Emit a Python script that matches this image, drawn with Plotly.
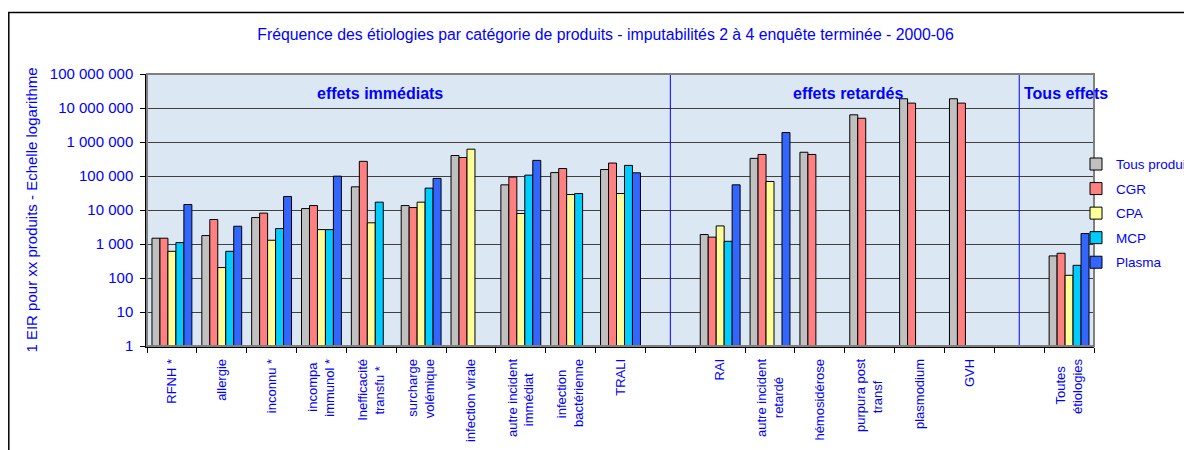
import plotly.graph_objects as go

NB = "\u00a0"
categories = ["RFNH *", "allergie", "inconnu *", "incompa" + NB + "<br>immunol *",
              "Inefficacité<br>transfu *" + NB * 2,
              "surcharge<br>volémique", "infection virale", "autre incident<br>immédiat" + NB * 4,
              "infection" + NB * 3 + "<br>bactérienne", "TRALI", " ", "RAI",
              "autre incident<br>retardé" + NB * 5,
              "hémosidérose", "purpura post<br>transf" + NB * 6, "plasmodium", "GVH", "  ",
              "Toutes" + NB * 2 + "<br>étiologies"]

tous_produits = [1480, 1770, 6000, 11000, 48000, 13500, 400000, 55000, 126000, 155000, None,
                 1900, 330000, 500000, 6300000, 18700000, 18700000, None, 446]
cgr = [1480, 5250, 8100, 13500, 270000, 11800, 350000, 93000, 166000, 240000, None,
       1590, 430000, 430000, 5000000, 13900000, 13900000, None, 535]
cpa = [610, 203, 1290, 2650, 4200, 17000, 615000, 7900, 28500, 30500, None,
       3400, 69000, None, None, None, None, None, 120]
mcp = [1100, 610, 2850, 2650, 17000, 44000, None, 106000, 30500, 205000, None,
       1200, None, None, None, None, None, None, 236]
plasma = [14500, 3330, 25000, 99000, None, 85000, None, 288000, None, 124000, None,
          55000, 1900000, None, None, None, None, None, 2030]

series_names = ["Tous produits", "CGR", "CPA", "MCP", "Plasma"]
series_values = [tous_produits, cgr, cpa, mcp, plasma]
series_colors = ["#C0C0C0", "#FF8080", "#FFFF99", "#00CCFF", "#3366FF"]

y_tickvals = [1, 10, 100, 1000, 10000, 100000, 1000000, 10000000, 100000000]
y_ticktext = ["1", "10", "100", "1 000", "10 000", "100 000", "1 000 000", "10 000 000", "100 000 000"]

BLUE = "#0000FF"
FONT = "Liberation Sans, Arial, sans-serif"

# page offset (body margin of the html page)
OFF = 8
W, H = 1192, 450
PL, PR, PT, PB = 147, 1094, 73.5, 346  # plot area in page pixels
L = PL - OFF
T = PT - OFF
R = W - (PR - OFF)
B = H - (PB - OFF)
pw, ph = PR - PL, PB - PT

def px_x(p):
    return (p - PL) / pw

def px_y(p):
    return (PB - p) / ph

fig = go.Figure()
for name, vals, col in zip(series_names, series_values, series_colors):
    fig.add_trace(go.Bar(x=categories, y=vals, name=name, legendgroup=name,
                         marker=dict(color=col, line=dict(color="black", width=1))))

fig.update_layout(
    width=W, height=H,
    margin=dict(l=L, r=R, t=T, b=B, autoexpand=False),
    paper_bgcolor="white",
    plot_bgcolor="#DCE7F4",
    barmode="group", bargap=0.2, bargroupgap=0,
    font=dict(family=FONT, color=BLUE),
    title=dict(text="Fréquence des étiologies par catégorie de produits - imputabilités 2 à 4 enquête terminée - 2000-06",
               x=(605.5 - OFF) / W, xanchor="center", y=1 - (34 - OFF) / H, yanchor="middle",
               font=dict(size=15.8, color=BLUE, family=FONT)),
    legend=dict(x=px_x(1076), y=px_y(213), xanchor="left", yanchor="middle",
                font=dict(size=13.5, color=BLUE, family=FONT), bgcolor="rgba(0,0,0,0)",
                tracegroupgap=4),
    showlegend=True,
)

fig.update_yaxes(type="log", range=[0, 8], tickvals=y_tickvals, ticktext=y_ticktext,
                 showgrid=True, gridcolor="#404040", gridwidth=1.2,
                 ticks="outside", ticklen=5, tickcolor="black", ticklabelstandoff=4,
                 showline=True, linecolor="black", linewidth=1.5,
                 tickfont=dict(size=15, color=BLUE, family=FONT),
                 title=dict(text="1 EIR pour xx produits - Echelle logarithme",
                            font=dict(size=15, color=BLUE, family=FONT), standoff=9),
                 zeroline=False, automargin=False)

fig.update_xaxes(type="category", tickson="boundaries", ticks="outside", ticklen=5,
                 tickcolor="black", tickangle=-90, showline=True, linecolor="black",
                 linewidth=1.5, showgrid=False, ticklabelstandoff=6,
                 tickfont=dict(size=13, color=BLUE, family=FONT), automargin=False)

# separators between groups of effects
for xi in [10, 17]:
    fig.add_shape(type="line", xref="x", yref="paper", x0=xi, x1=xi, y0=0, y1=1,
                  line=dict(color=BLUE, width=1))

# plot area border
fig.add_shape(type="rect", xref="paper", yref="paper", x0=0, x1=1, y0=0, y1=1,
              line=dict(color="#808080", width=2), layer="above")

# chart frame
fig.add_shape(type="rect", xref="paper", yref="paper",
              x0=px_x(OFF + 0.8), x1=px_x(1220), y0=px_y(480), y1=px_y(12),
              line=dict(color="black", width=1.5), layer="above")

for txt, cx in [("effets immédiats", 380), ("effets retardés", 848), ("Tous effets", 1066)]:
    fig.add_annotation(text="<b>" + txt + "</b>", xref="paper", yref="paper",
                       x=px_x(cx), y=px_y(93), xanchor="center", yanchor="middle",
                       showarrow=False, font=dict(size=16, color=BLUE, family=FONT))

fig.write_html("out.html")
